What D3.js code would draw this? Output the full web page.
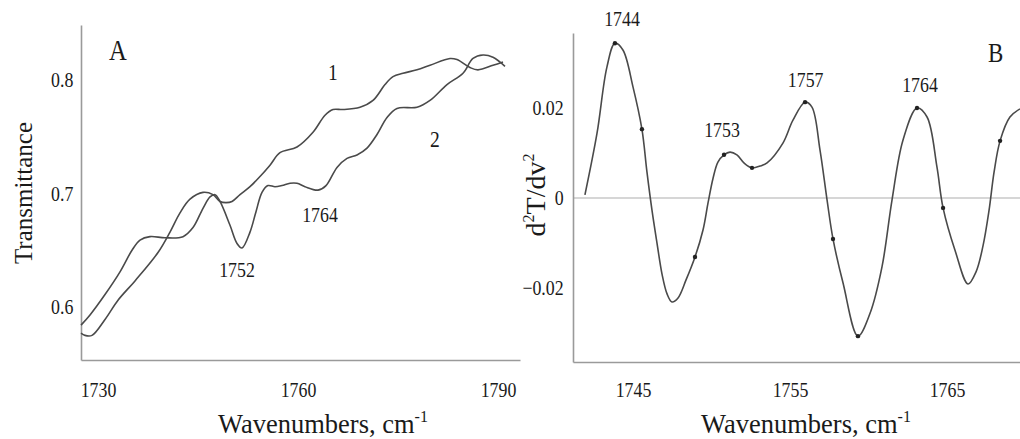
<!DOCTYPE html>
<html>
<head>
<meta charset="utf-8">
<script src="https://cdn.jsdelivr.net/npm/d3@7"></script>
<style>
  body { margin: 0; background: #fff; }
  svg text { font-family: "Liberation Serif", "Times New Roman", serif; fill: #1a1a1a; }
</style>
</head>
<body>
<svg id="chart" width="1020" height="439"></svg>
<script>
// ---- Panel A: transmittance, curves 1 and 2 ----
const wnA1 = [1727.45, 1728.05, 1729.1, 1731.05, 1733.0, 1735.55, 1739.0, 1740.8, 1742.3, 1743.8, 1745.75,
  1747.25, 1748.3, 1749.2, 1750.1, 1751.3, 1752.8, 1754.3, 1755.8, 1757.3, 1759.85, 1762.25, 1764.05,
  1765.25, 1766.75, 1769.3, 1771.25, 1773.05, 1774.25, 1775.75, 1777.85, 1779.8, 1782.8, 1783.85, 1785.8,
  1787.0, 1789.25, 1790.75];
const tA1 = [0.577, 0.575, 0.575, 0.589, 0.606, 0.623, 0.648, 0.666, 0.683, 0.695, 0.701,
  0.699, 0.693, 0.692, 0.693, 0.699, 0.706, 0.715, 0.725, 0.736, 0.741, 0.754, 0.769,
  0.774, 0.774, 0.776, 0.782, 0.796, 0.803, 0.806, 0.809, 0.813, 0.819, 0.818, 0.811,
  0.809, 0.813, 0.816];

const wnA2 = [1727.45, 1728.8, 1731.05, 1733.3, 1735.1, 1736.3, 1737.8, 1740.05, 1742.75, 1744.25, 1745.75,
  1746.8, 1747.55, 1748.3, 1749.8, 1750.85, 1751.6, 1752.8, 1753.7, 1754.6, 1755.5, 1756.55, 1757.6,
  1758.8, 1759.85, 1761.05, 1763.0, 1764.2, 1765.85, 1767.35, 1768.85, 1770.35, 1771.85, 1773.35, 1774.85,
  1777.85, 1779.8, 1782.35, 1784.75, 1786.25, 1787.75, 1789.25, 1791.05];
const tA2 = [0.584, 0.593, 0.611, 0.631, 0.650, 0.659, 0.662, 0.661, 0.662, 0.670, 0.687,
  0.697, 0.699, 0.693, 0.672, 0.656, 0.652, 0.666, 0.684, 0.701, 0.707, 0.706, 0.707,
  0.709, 0.709, 0.706, 0.703, 0.707, 0.723, 0.731, 0.734, 0.740, 0.752, 0.767, 0.775,
  0.776, 0.782, 0.796, 0.806, 0.819, 0.822, 0.820, 0.812];

const ticksAx = [1730, 1760, 1790];
const ticksAy = [0.6, 0.7, 0.8];
const labelsA = ["A", "1", "2", "1764", "1752"];
const labelsAwn = [1733.0, 1765.25, 1780.55, 1763.3, 1750.85];
const labelsAt = [0.8176, 0.800, 0.741, 0.6749, 0.6264];

// ---- Panel B: second derivative ----
const wnB = [1741.94, 1742.71, 1743.34, 1743.85, 1744.36, 1745.0, 1745.57, 1745.89, 1746.21, 1746.53,
  1746.85, 1747.17, 1747.48, 1747.87, 1748.38, 1748.95, 1749.46, 1749.78, 1750.1, 1750.41, 1750.8,
  1751.18, 1751.62, 1752.07, 1752.58, 1753.09, 1753.54, 1754.55, 1755.19, 1755.96, 1756.4, 1756.91,
  1757.36, 1757.74, 1758.38, 1759.33, 1760.1, 1760.86, 1761.5, 1762.2, 1763.09, 1763.73, 1764.36,
  1764.75, 1765.51, 1766.34, 1766.85, 1767.29, 1767.68, 1768.0, 1768.38, 1769.01, 1769.65];
const d2B = [0.0007, 0.0144, 0.0291, 0.0344, 0.0329, 0.0247, 0.0153, 0.0058, -0.0027, -0.0100,
  -0.0169, -0.0213, -0.0231, -0.0222, -0.0182, -0.0131, -0.0071, -0.0011, 0.0044, 0.0080, 0.0096,
  0.0102, 0.0096, 0.0078, 0.0067, 0.0071, 0.0078, 0.0122, 0.0173, 0.0213, 0.0202, 0.0107,
  -0.0004, -0.0091, -0.0189, -0.0307, -0.0256, -0.0153, -0.0004, 0.0129, 0.0200, 0.0180, 0.0069,
  -0.0022, -0.0116, -0.0191, -0.0164, -0.0107, -0.0027, 0.0058, 0.0127, 0.0180, 0.0198];
const dotsBwn = [1743.85, 1745.57, 1748.95, 1750.8, 1752.58, 1755.96, 1757.74, 1759.33, 1763.09, 1764.75, 1768.38];

const ticksBx = [1745, 1755, 1765];
const ticksBy = [-0.02, 0, 0.02];
const labelsB = ["1744", "1753", "1757", "1764", "B"];
const labelsBwn = [1744.3, 1750.67, 1756.0, 1763.28, 1768.1];
const labelsBv = [0.0382, 0.0136, 0.0247, 0.0236, 0.0302];

const svg = d3.select('#chart');
const lineColor = '#4a4a4a';
const axisColor = '#9a9a9a';
const sx = 0.85; // glyphs in the source look narrow

function styleAxis(g) {
  g.select('.domain').attr('stroke', axisColor).attr('stroke-width', 1.6);
  g.selectAll('.tick line').remove();
  g.selectAll('.tick text')
    .style('font-size', '21px')
    .style('fill', '#1a1a1a')
    .attr('transform', `scale(${sx},1)`);
}

function label(g, x, y, s, size, scaleX) {
  return g.append('text')
    .attr('transform', `translate(${x},${y}) scale(${scaleX || sx},1)`)
    .attr('text-anchor', 'middle')
    .style('font-size', size + 'px')
    .text(s);
}

// ---------- Panel A ----------
const xA = d3.scaleLinear().domain([1727.45, 1793.3]).range([81, 520]);
const yA = d3.scaleLinear().domain([0.5533, 0.8485]).range([360, 25]);
const gA = svg.append('g');

gA.append('g')
  .attr('transform', 'translate(0,360)')
  .call(d3.axisBottom(xA).tickValues(ticksAx).tickFormat(d3.format('d')).tickSize(0).tickPadding(22))
  .call(styleAxis);
gA.append('g')
  .attr('transform', 'translate(81,0)')
  .call(d3.axisLeft(yA).tickValues(ticksAy).tickFormat(d3.format('.1f')).tickSize(0).tickPadding(9))
  .call(styleAxis);

const lineA = d3.line().x(d => xA(d[0])).y(d => yA(d[1])).curve(d3.curveCatmullRom.alpha(0.5));
[[wnA1, tA1], [wnA2, tA2]].forEach(([w, t]) => {
  gA.append('path')
    .datum(w.map((v, i) => [v, t[i]]))
    .attr('fill', 'none')
    .attr('stroke', lineColor)
    .attr('stroke-width', 1.6)
    .attr('d', lineA);
});

labelsA.forEach((s, i) => {
  const size = s === 'A' ? 29 : (s.length === 1 ? 23 : 21);
  label(gA, xA(labelsAwn[i]), yA(labelsAt[i]), s, size);
});

gA.append('text')
  .attr('transform', 'translate(32,193) rotate(-90)')
  .attr('text-anchor', 'middle')
  .style('font-size', '25px')
  .text('Transmittance');

const titleA = label(gA, 323, 433, 'Wavenumbers, cm', 26.5, 1);
titleA.append('tspan').attr('dy', -11).style('font-size', '16px').text('-1');

// ---------- Panel B ----------
const xB = d3.scaleLinear().domain([1741.18, 1769.65]).range([573, 1020]);
const yB = d3.scaleLinear().domain([-0.03644, 0.03667]).range([362, 33]);
const gB = svg.append('g');

gB.append('line')
  .attr('x1', xB.range()[0]).attr('x2', xB.range()[1])
  .attr('y1', yB(0)).attr('y2', yB(0))
  .attr('stroke', '#c8c8c8').attr('stroke-width', 1.6);

gB.append('g')
  .attr('transform', 'translate(0,362)')
  .call(d3.axisBottom(xB).tickValues(ticksBx).tickFormat(d3.format('d')).tickSize(0).tickPadding(20))
  .call(styleAxis);
gB.append('g')
  .attr('transform', 'translate(573,0)')
  .call(d3.axisLeft(yB).tickValues(ticksBy).tickFormat(d => d === 0 ? '0' : d3.format('.2f')(d)).tickSize(0).tickPadding(11))
  .call(styleAxis);

const ptsB = wnB.map((v, i) => [v, d2B[i]]);
const lineB = d3.line().x(d => xB(d[0])).y(d => yB(d[1])).curve(d3.curveCatmullRom.alpha(0.5));
gB.append('path')
  .datum(ptsB)
  .attr('fill', 'none')
  .attr('stroke', lineColor)
  .attr('stroke-width', 1.6)
  .attr('d', lineB);

gB.selectAll('.dot')
  .data(ptsB.filter(p => dotsBwn.includes(p[0])))
  .enter().append('circle')
  .attr('cx', d => xB(d[0]))
  .attr('cy', d => yB(d[1]))
  .attr('r', 2.2)
  .attr('fill', '#222');

labelsB.forEach((s, i) => {
  label(gB, xB(labelsBwn[i]), yB(labelsBv[i]), s, s === 'B' ? 27 : 21);
});

const yTitleB = gB.append('text')
  .attr('transform', 'translate(545,195) rotate(-90)')
  .attr('text-anchor', 'middle')
  .style('font-size', '28px');
yTitleB.append('tspan').text('d');
yTitleB.append('tspan').attr('dy', -11).style('font-size', '16px').text('2');
yTitleB.append('tspan').attr('dy', 11).text('T/dv');
yTitleB.append('tspan').attr('dy', -11).style('font-size', '16px').text('2');

const titleB = label(gB, 806, 433, 'Wavenumbers, cm', 26.5, 1);
titleB.append('tspan').attr('dy', -11).style('font-size', '16px').text('-1');
</script>
</body>
</html>
